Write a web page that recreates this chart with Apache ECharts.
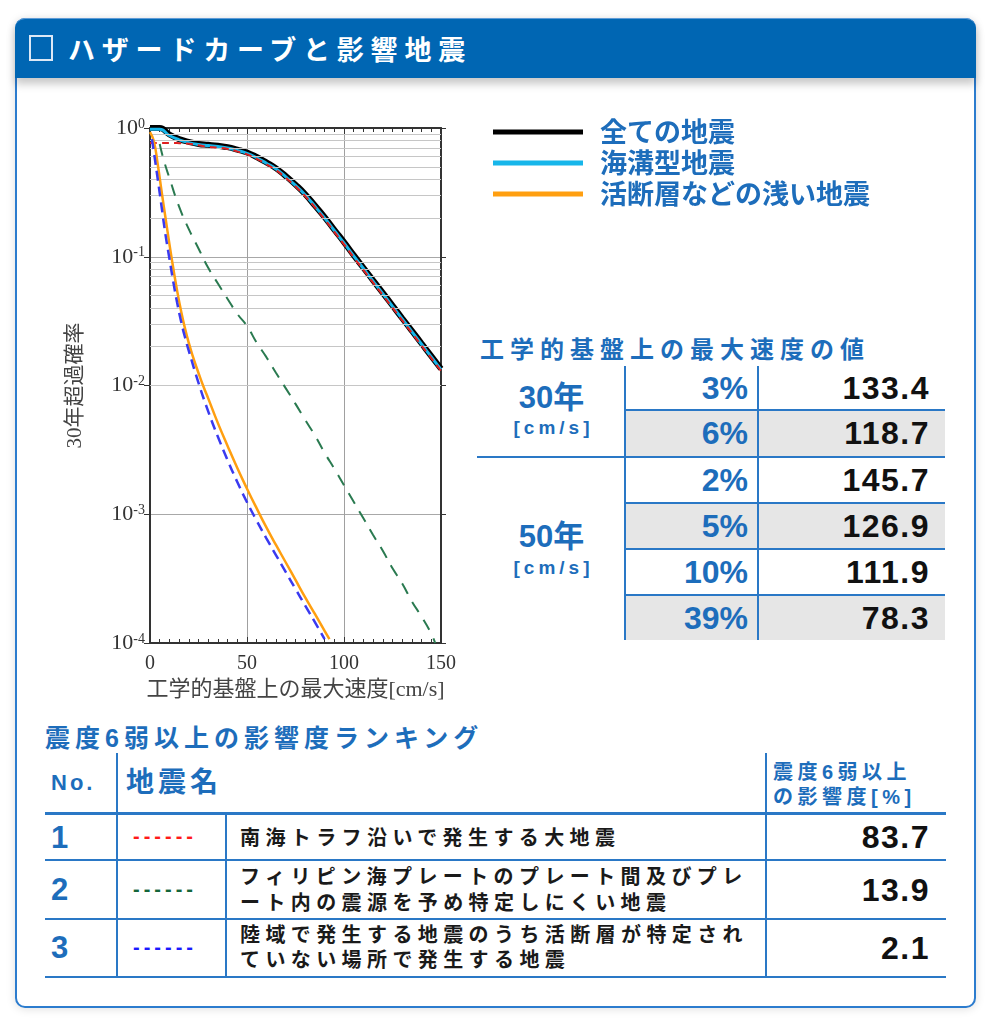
<!DOCTYPE html>
<html><head><meta charset="utf-8">
<script src="https://cdn.jsdelivr.net/npm/echarts@6/dist/echarts.min.js"></script>
<style>
html,body{margin:0;padding:0;}
body{width:994px;height:1024px;background:#fff;position:relative;overflow:hidden;font-family:"Liberation Sans","Noto Sans CJK JP",sans-serif;}
#panel{position:absolute;left:15px;top:18px;width:961px;height:990px;box-sizing:border-box;border:2px solid #2c7cce;border-radius:10px;background:#fff;box-shadow:0 1px 10px rgba(0,0,0,0.13);}
#header{position:absolute;left:15px;top:18px;width:961px;height:60px;background:#0066b3;border-radius:10px 10px 0 0;box-shadow:0 6px 9px rgba(0,0,0,0.22);border-top:1px solid #5e9bd6;box-sizing:border-box;}
#sq{position:absolute;left:14px;top:16px;width:20px;height:22px;border:2px solid #dce8f6;}
#title{position:absolute;left:53px;top:11px;color:#fff;font-family:"Noto Sans CJK JP",sans-serif;font-weight:bold;font-size:27px;line-height:38px;letter-spacing:6.8px;white-space:nowrap;}
.t{position:absolute;white-space:nowrap;}
.blue{color:#1d6dbb;font-weight:bold;}
.hl{position:absolute;height:2px;background:#2a78c6;}
.vl{position:absolute;width:2px;background:#2a78c6;}
.gray{position:absolute;background:#e6e6e6;}
.num{font-family:"Liberation Sans",sans-serif;font-weight:bold;}
#chart{position:absolute;left:0;top:0;width:994px;height:720px;z-index:2;}
</style></head><body>
<div id="panel"></div>
<div id="header"><div id="sq"></div><div id="title">ハザードカーブと影響地震</div></div>

<!-- velocity table -->
<div class="t blue" style="left:480px;top:334px;font-size:24px;line-height:32px;letter-spacing:6px;">工学的基盤上の最大速度の値</div>
<div class="gray" style="left:626px;top:411px;width:319px;height:45px;"></div>
<div class="gray" style="left:626px;top:504px;width:319px;height:44px;"></div>
<div class="gray" style="left:626px;top:596px;width:319px;height:44px;"></div>
<div class="vl" style="left:624px;top:366px;height:274px;"></div>
<div class="vl" style="left:757px;top:366px;height:274px;"></div>
<div class="hl" style="left:625px;top:409px;width:320px;"></div>
<div class="hl" style="left:477px;top:456px;width:468px;"></div>
<div class="hl" style="left:625px;top:502px;width:320px;"></div>
<div class="hl" style="left:625px;top:548px;width:320px;"></div>
<div class="hl" style="left:625px;top:594px;width:320px;"></div>

<div class="t blue" style="left:478px;width:147px;text-align:center;top:379px;font-size:31px;line-height:38px;">30年</div>
<div class="t blue" style="left:478px;width:147px;text-align:center;top:416px;font-size:19px;line-height:24px;letter-spacing:4px;text-indent:4px;">[cm/s]</div>
<div class="t blue" style="left:478px;width:147px;text-align:center;top:518px;font-size:31px;line-height:38px;">50年</div>
<div class="t blue" style="left:478px;width:147px;text-align:center;top:556px;font-size:19px;line-height:24px;letter-spacing:4px;text-indent:4px;">[cm/s]</div>

<div class="t blue num" style="left:628px;width:120px;text-align:right;top:368px;font-size:32px;line-height:40px;">3%</div>
<div class="t blue num" style="left:628px;width:120px;text-align:right;top:413px;font-size:32px;line-height:40px;">6%</div>
<div class="t blue num" style="left:628px;width:120px;text-align:right;top:460px;font-size:32px;line-height:40px;">2%</div>
<div class="t blue num" style="left:628px;width:120px;text-align:right;top:506px;font-size:32px;line-height:40px;">5%</div>
<div class="t blue num" style="left:628px;width:120px;text-align:right;top:552px;font-size:32px;line-height:40px;">10%</div>
<div class="t blue num" style="left:628px;width:120px;text-align:right;top:598px;font-size:32px;line-height:40px;">39%</div>

<div class="t num" style="left:780px;width:150px;text-align:right;top:368px;font-size:32px;line-height:40px;letter-spacing:1.5px;color:#111;">133.4</div>
<div class="t num" style="left:780px;width:150px;text-align:right;top:413px;font-size:32px;line-height:40px;letter-spacing:1.5px;color:#111;">118.7</div>
<div class="t num" style="left:780px;width:150px;text-align:right;top:460px;font-size:32px;line-height:40px;letter-spacing:1.5px;color:#111;">145.7</div>
<div class="t num" style="left:780px;width:150px;text-align:right;top:506px;font-size:32px;line-height:40px;letter-spacing:1.5px;color:#111;">126.9</div>
<div class="t num" style="left:780px;width:150px;text-align:right;top:552px;font-size:32px;line-height:40px;letter-spacing:1.5px;color:#111;">111.9</div>
<div class="t num" style="left:780px;width:150px;text-align:right;top:598px;font-size:32px;line-height:40px;letter-spacing:1.5px;color:#111;">78.3</div>

<!-- ranking table -->
<div class="t blue" style="left:45px;top:722px;font-size:25px;line-height:32px;letter-spacing:5px;">震度6弱以上の影響度ランキング</div>
<div class="vl" style="left:116px;top:753px;height:224px;"></div>
<div class="vl" style="left:225px;top:813px;height:164px;"></div>
<div class="vl" style="left:765px;top:753px;height:224px;"></div>
<div class="hl" style="left:45px;top:812px;width:901px;height:3px;"></div>
<div class="hl" style="left:45px;top:859px;width:901px;"></div>
<div class="hl" style="left:45px;top:918px;width:901px;"></div>
<div class="hl" style="left:45px;top:976px;width:901px;"></div>

<div class="t blue" style="left:51px;top:769px;font-size:22px;line-height:28px;letter-spacing:3px;">No.</div>
<div class="t blue" style="left:126px;top:765px;font-size:28px;line-height:36px;letter-spacing:4px;">地震名</div>
<div class="t blue" style="left:773px;top:759px;font-size:20px;line-height:26px;letter-spacing:4.5px;">震度6弱以上</div>
<div class="t blue" style="left:773px;top:784px;font-size:20px;line-height:26px;letter-spacing:4.5px;">の影響度[%]</div>

<div class="t blue num" style="left:51px;top:819px;font-size:31px;line-height:38px;">1</div>
<div class="t blue num" style="left:51px;top:871px;font-size:31px;line-height:38px;">2</div>
<div class="t blue num" style="left:51px;top:929px;font-size:31px;line-height:38px;">3</div>

<div class="t num" style="left:133px;top:825px;font-size:20px;line-height:22px;letter-spacing:4px;color:#ff1a1a;">------</div>
<div class="t num" style="left:133px;top:878px;font-size:20px;line-height:22px;letter-spacing:4px;color:#14663a;">------</div>
<div class="t num" style="left:133px;top:936px;font-size:20px;line-height:22px;letter-spacing:4px;color:#1a1aff;">------</div>

<div class="t" style="left:240px;top:825px;font-size:20px;line-height:26px;letter-spacing:5.4px;font-weight:bold;color:#1a1a1a;">南海トラフ沿いで発生する大地震</div>
<div class="t" style="left:240px;top:864px;font-size:20px;line-height:26px;letter-spacing:5.4px;font-weight:bold;color:#1a1a1a;">フィリピン海プレートのプレート間及びプレ<br>ート内の震源を予め特定しにくい地震</div>
<div class="t" style="left:240px;top:923px;font-size:20px;line-height:25px;letter-spacing:5.4px;font-weight:bold;color:#1a1a1a;">陸域で発生する地震のうち活断層が特定され<br>ていない場所で発生する地震</div>

<div class="t num" style="left:780px;width:150px;text-align:right;top:817px;font-size:32px;line-height:40px;letter-spacing:1.5px;color:#111;">83.7</div>
<div class="t num" style="left:780px;width:150px;text-align:right;top:870px;font-size:32px;line-height:40px;letter-spacing:1.5px;color:#111;">13.9</div>
<div class="t num" style="left:780px;width:150px;text-align:right;top:928px;font-size:32px;line-height:40px;letter-spacing:1.5px;color:#111;">2.1</div>

<div id="chart"></div>
<script>
// ---- data ----
const velocityMain = [0,5,10,15,20,25,30,35,40,45,50,55,60,65,70,75,80,85,90,95,100,105,110,115,120,125,130,135,140,145,150];
const allQuakes    = [1.0,1.0,0.89,0.82,0.78,0.752,0.74,0.727,0.71,0.68,0.645,0.595,0.54,0.486,0.423,0.363,0.306,0.25,0.203,0.162,0.130,0.103,0.0822,0.0656,0.0524,0.0418,0.0333,0.0266,0.0212,0.0169,0.0135];
const trenchQuakes = [0.98,0.98,0.875,0.81,0.77,0.745,0.73,0.717,0.70,0.67,0.636,0.587,0.533,0.48,0.418,0.358,0.302,0.247,0.2,0.16,0.128,0.1015,0.081,0.0647,0.0517,0.0412,0.0329,0.0262,0.0209,0.0167,0.0133];
const nankaiQuakes = [0.765,0.765,0.765,0.762,0.755,0.735,0.715,0.703,0.687,0.658,0.624,0.576,0.523,0.47,0.41,0.352,0.296,0.242,0.196,0.156,0.125,0.099,0.079,0.063,0.0504,0.0402,0.0321,0.0256,0.0204,0.0163,0.013];
const velocityPhil = [5,7,10,15,20,25,30,35,40,45,50,55,60,65,70,75,80,85,90,95,100,105,110,115,120,125,130,135,140,145,147];
const philippineQuakes = [0.75,0.57,0.41,0.245,0.164,0.116,0.082,0.062,0.047,0.036,0.029,0.0215,0.0166,0.0125,0.0095,0.0072,0.0054,0.0041,0.0030,0.00226,0.00168,0.00125,0.00093,0.00069,0.00052,0.00038,0.00029,0.00021,0.00016,0.000118,0.0001];
const velocityShallow = [0,2,4,6,8,10,12,14,16,18,20,22,24,26,28,30,35,40,45,50,55,60,65,70,75,80,85,90,92.5];
const shallowQuakes   = [0.93,0.79,0.52,0.32,0.20,0.126,0.0813,0.0543,0.038,0.0279,0.0214,0.017,0.0138,0.01135,0.00944,0.00794,0.0051,0.00339,0.00229,0.00158,0.00111,0.00079,0.000575,0.000422,0.000309,0.000226,0.000168,0.000124,0.000107];
const velocityLand = [1,2,4,6,8,10,12,14,16,18,20,25,30,35,40,45,50,55,60,65,70,75,80,85,90];
const landQuakes   = [0.82,0.65,0.40,0.243,0.148,0.097,0.064,0.0439,0.0316,0.0238,0.0186,0.0105,0.0063,0.0040,0.00263,0.00178,0.00124,0.00089,0.00065,0.00048,0.000355,0.000263,0.000195,0.000145,0.000107];
const xTicks = [0,50,100,150];
const minorGrid = [2e-4,3e-4,4e-4,5e-4,6e-4,7e-4,8e-4,9e-4,2e-3,3e-3,4e-3,5e-3,6e-3,7e-3,8e-3,9e-3,2e-2,3e-2,4e-2,5e-2,6e-2,7e-2,8e-2,9e-2,0.2,0.3,0.4,0.5,0.6,0.7,0.8,0.9];
const legendNames = ['全ての地震','海溝型地震','活断層などの浅い地震'];

const pairs = (xs, ys) => xs.map((x, i) => [x, ys[i]]);
const serif = '"Liberation Serif","Noto Sans CJK JP",serif';
const frame = {show:true, onZero:false, lineStyle:{color:'#333', width:2}};
const tickStyle = {color:'#333', width:1};

function lineSeries(name, data, color, width, dash, z) {
  return {
    name, type:'line', data, smooth:0.5, showSymbol:false, symbol:'none', clip:false, z,
    color, itemStyle:{color},
    lineStyle:{color, width, type: dash || 'solid', cap:'butt'},
    emphasis:{disabled:true}
  };
}

const chart = echarts.init(document.getElementById('chart'));
chart.setOption({
  animation:false,
  grid:{left:150, top:128, width:291, height:515},
  legend:{
    data:legendNames, orient:'vertical', left:488, top:112, itemWidth:90, itemHeight:5, itemGap:1,
    icon:'rect', selectedMode:false,
    textStyle:{color:'#1d6dbb', fontSize:27, fontWeight:'bold', fontFamily:'"Noto Sans CJK JP",sans-serif', lineHeight:30, padding:[0,0,0,12]}
  },
  xAxis:[{
    type:'value', min:0, max:150, interval:50, position:'bottom',
    axisLine:frame,
    axisTick:{show:true, inside:true, length:6, lineStyle:tickStyle},
    minorTick:{show:true, splitNumber:10, length:4, lineStyle:tickStyle},
    axisLabel:{margin:11, fontFamily:serif, fontSize:20, color:'#333',
      formatter: v => xTicks.indexOf(v) >= 0 ? String(v) : ''},
    splitLine:{show:true, lineStyle:{color:'#a0a0a0', width:1}},
    name:'工学的基盤上の最大速度[cm/s]', nameLocation:'middle', nameGap:35,
    nameTextStyle:{fontFamily:serif, fontSize:22, color:'#444'}
  },{
    type:'value', min:0, max:150, interval:50, position:'top',
    axisLine:frame,
    axisTick:{show:true, inside:true, length:6, lineStyle:tickStyle},
    minorTick:{show:true, splitNumber:10, length:4, lineStyle:tickStyle},
    axisLabel:{show:false}, splitLine:{show:false}
  }],
  yAxis:[{
    type:'log', logBase:10, min:1e-4, max:1, position:'left',
    axisLine:frame,
    axisTick:{show:true, length:6, lineStyle:tickStyle},
    axisLabel:{margin:5,
      formatter: v => '{b|10}{s|' + Math.round(Math.log10(v)) + '}',
      rich:{
        b:{fontFamily:serif, fontSize:22, color:'#333'},
        s:{fontFamily:serif, fontSize:14, color:'#333', verticalAlign:'top'}
      }},
    splitLine:{show:true, lineStyle:{color:'#a8a8a8', width:1}},
    name:'30年超過確率', nameLocation:'middle', nameGap:64, nameRotate:90,
    nameTextStyle:{fontFamily:serif, fontSize:21, color:'#444'}
  },{
    type:'log', logBase:10, min:1e-4, max:1, position:'right',
    axisLine:frame,
    axisTick:{show:true, length:5, lineStyle:tickStyle},
    axisLabel:{show:false}, splitLine:{show:false}
  }],
  series:[
    {
      name:'minor-grid', type:'line', data:[[0,1e-4]], showSymbol:false, symbol:'none', silent:true, z:1,
      lineStyle:{opacity:0},
      markLine:{silent:true, symbol:['none','none'], label:{show:false}, animation:false,
        lineStyle:{color:'#c6c6c6', width:1, type:'solid'},
        emphasis:{disabled:true},
        data:minorGrid.map(v => ({yAxis:v}))}
    },
    lineSeries('全ての地震', pairs(velocityMain, allQuakes), '#000000', 6, null, 3),
    lineSeries('海溝型地震', pairs(velocityMain, trenchQuakes), '#17b6ea', 3, null, 4),
    lineSeries('南海トラフ沿いで発生する大地震', pairs(velocityMain, nankaiQuakes), '#e02020', 2, [7,5], 5),
    lineSeries('フィリピン海プレートのプレート間及びプレート内の震源を予め特定しにくい地震', pairs(velocityPhil, philippineQuakes), '#2a7a50', 2, [12,9], 5),
    lineSeries('活断層などの浅い地震', pairs(velocityShallow, shallowQuakes), '#ff9f10', 2.5, null, 5),
    lineSeries('陸域で発生する地震のうち活断層が特定されていない場所で発生する地震', pairs(velocityLand, landQuakes), '#3a3af0', 2.5, [10,6], 6)
  ]
});
</script>
</body></html>
